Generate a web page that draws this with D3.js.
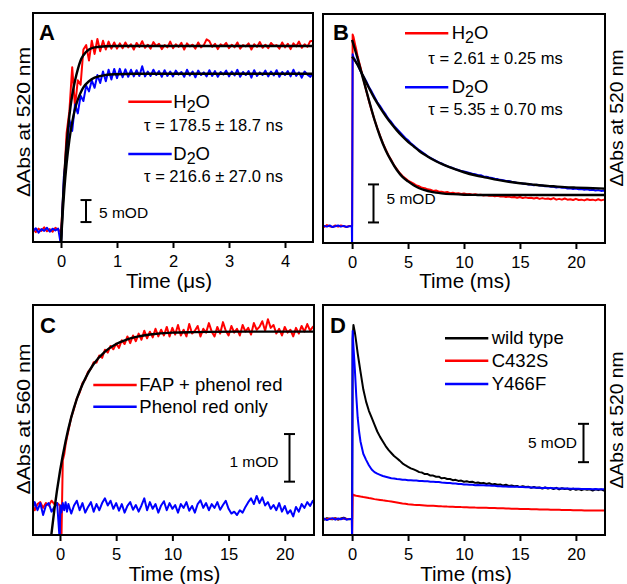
<!DOCTYPE html>
<html><head><meta charset="utf-8">
<script src="https://cdn.jsdelivr.net/npm/d3@7"></script>
<style>
html,body{margin:0;padding:0;background:#fff;}
svg{display:block;font-family:"Liberation Sans",Arial,Helvetica,sans-serif;}
</style></head><body>
<svg id="fig" width="627" height="584"></svg>
<script>
// ---------- DATA ----------
// Panel A time grid (µs)
const tA = [-0.5,-0.45,-0.4,-0.35,-0.3,-0.25,-0.2,-0.15,-0.1,-0.05,
0,0.05,0.1,0.15,0.2,0.25,0.3,0.35,0.4,0.45,
0.5,0.55,0.6,0.65,0.7,0.75,0.8,0.85,0.9,0.95,
1,1.05,1.1,1.15,1.2,1.25,1.3,1.35,1.4,1.45,
1.5,1.55,1.6,1.65,1.7,1.75,1.8,1.85,1.9,1.95,
2,2.05,2.1,2.15,2.2,2.25,2.3,2.35,2.4,2.45,
2.5,2.55,2.6,2.65,2.7,2.75,2.8,2.85,2.9,2.95,
3,3.05,3.1,3.15,3.2,3.25,3.3,3.35,3.4,3.45,
3.5,3.55,3.6,3.65,3.7,3.75,3.8,3.85,3.9,3.95,
4,4.05,4.1,4.15,4.2,4.25,4.3,4.35,4.4,4.45,4.5];
const aH2O = [0.4,-0.5,0.3,-0.2,0.6,-0.3,0.2,-0.4,0.5,0.1,
-0.5,10,22,27,37,28,34,33,41,42,
38.5,43,40,43.4,40.6,43,41,42.8,41.2,42.6,
41.2,
42.4,41.3,42.6,41.5,42.2,41.0,42.5,41.6,42.9,41.4,
42.1,41.2,42.7,41.8,42.3,41.1,42.0,41.5,42.8,41.3,
42.2,41.6,42.5,41.0,42.4,41.7,42.1,41.2,42.6,41.5,
42.0,43.3,42.9,41.6,42.3,41.1,42.2,41.8,42.5,41.3,
42.1,41.5,42.6,41.2,42.0,41.7,42.4,41.0,42.2,41.6,
42.7,41.4,42.1,41.3,42.5,41.8,42.0,41.2,42.6,41.5,
42.3,41.1,42.4,41.7,42.8,41.4,42.2,41.6,42.9,43.0];
const aD2O = [-0.3,0.4,-0.6,0.2,-0.2,0.5,-0.4,0.3,-0.1,0.3,
-3.5,12,17,25,22.5,28.5,26.5,30.5,29.3,32.8,
31.5,34,32.3,35.2,33.4,36,33.8,36.4,34.2,36.6,
34.5,
36.6,34.7,36.5,34.8,36.4,34.9,36.3,35.0,37.2,34.9,
36.0,35.0,36.4,35.2,36.1,34.8,36.3,35.0,36.0,34.9,
36.2,35.3,35.9,34.8,36.4,35.1,36.0,34.7,36.2,35.2,
35.8,34.9,36.3,35.0,36.1,34.8,35.9,35.3,36.2,34.9,
36.0,35.1,36.4,34.8,35.9,35.2,36.1,34.6,36.3,35.0,
35.8,35.2,36.2,34.9,36.0,35.1,36.3,34.8,35.9,35.2,
36.1,34.9,36.4,35.0,35.8,34.6,36.0,35.3,34.8,35.6];
const fitA_H2O_t = [0,0.03,0.06,0.1,0.15,0.2,0.25,0.3,0.35,0.4,0.5,0.6,0.8,1.0,4.5];
const fitA_H2O   = [-3,5.6,12.4,19.4,26.0,30.6,33.9,36.5,38.5,39.7,41.0,41.5,41.75,41.8,41.8];
const fitA_D2O_t = [0,0.03,0.06,0.1,0.15,0.2,0.25,0.3,0.35,0.4,0.5,0.6,0.8,1.0,1.3,4.5];
const fitA_D2O   = [-3,3.8,9.3,15.1,20.5,24.5,27.5,29.6,31.2,32.4,33.8,34.6,35.2,35.4,35.5,35.5];

// Shared time grid for panels B, C, D (ms)
const tMs = [-2.75,-2.5,-2.25,-2,-1.75,-1.5,-1.25,-1,-0.75,-0.5,-0.25,
-0.02,0,0.05,0.12,0.25,0.375,0.5,0.625,0.75,
1,1.25,1.5,1.75,2,2.25,2.5,2.75,3,3.25,
3.5,3.75,4,4.25,4.5,4.75,5,5.25,5.5,5.75,
6,6.25,6.5,6.75,7,7.25,7.5,7.75,8,8.25,
8.5,8.75,9,9.25,9.5,9.75,10,10.25,10.5,10.75,
11,11.25,11.5,11.75,12,12.25,12.5,12.75,13,13.25,
13.5,13.75,14,14.25,14.5,14.75,15,15.25,15.5,15.75,
16,16.25,16.5,16.75,17,17.25,17.5,17.75,18,18.25,
18.5,18.75,19,19.25,19.5,19.75,20,20.25,20.5,20.75,
21,21.25,21.5,21.75,22,22.25,22.5,22.75];

// Panel B (mOD)
const bH2O = [0.1,-0.1,0.15,0,-0.1,0.1,-0.05,0.1,0,-0.1,0.05,
0,0,25.2,24.9,24.0,23.2,22.3,21.6,20.9,
19.4,17.9,16.5,15.2,14.0,12.9,11.9,10.9,10.1,9.3,
8.7,8.0,7.5,7.0,6.6,6.3,6.0,5.8,5.6,5.35,
5.25,5.05,5.0,4.85,4.8,4.65,4.7,4.55,4.55,4.45,
4.5,4.35,4.4,4.3,4.35,4.25,4.3,4.2,4.25,4.15,
4.2,4.1,4.15,4.05,4.1,4.0,4.05,3.95,4.0,3.9,
3.95,3.85,3.9,3.8,3.85,3.75,3.85,3.7,3.8,3.7,
3.75,3.65,3.75,3.6,3.7,3.6,3.65,3.55,3.7,3.5,
3.6,3.5,3.65,3.5,3.55,3.45,3.6,3.45,3.5,3.4,
3.55,3.45,3.5,3.4,3.55,3.4,3.5,3.45];
const bD2O = [-0.1,0.05,-0.05,0.1,-0.1,0,0.1,-0.05,0.05,-0.1,0,
0,-3,22.6,22.2,21.9,21.5,21.2,20.8,20.4,
19.7,19.1,18.3,17.7,17.0,16.3,15.8,15.2,14.7,14.1,
13.7,13.2,12.8,12.4,12.0,11.6,11.3,10.9,10.6,10.3,
10.0,9.75,9.5,9.2,9.0,8.8,8.6,8.4,8.25,8.05,
7.9,7.75,7.65,7.5,7.4,7.25,7.2,7.1,7.0,6.9,
6.85,6.7,6.7,6.55,6.5,6.4,6.35,6.25,6.2,6.1,
6.05,5.95,5.95,5.85,5.8,5.7,5.7,5.6,5.6,5.5,
5.5,5.4,5.45,5.35,5.35,5.25,5.3,5.2,5.2,5.1,
5.15,5.05,5.1,4.95,5.0,4.9,4.95,4.85,4.9,4.8,
4.85,4.75,4.8,4.7,4.75,4.65,4.7,4.6];
const fitB_H2O_t = [0,0.5,1,1.5,2,2.5,3,3.5,4,4.5,5,5.5,6,6.5,7,7.5,8,9,10,11,12,22.6];
const fitB_H2O   = [24.5,22.0,19.3,16.6,14.0,11.8,10.0,8.6,7.4,6.5,5.9,5.4,5.0,4.75,4.55,4.42,4.33,4.22,4.15,4.12,4.1,4.1];
const fitB_D2O_t = [0,0.5,1,1.5,2,2.5,3,3.5,4,4.5,5,5.5,6,6.5,7,7.5,8,9,10,11,12,13,14,15,16,17,18,19,20,21,22.6];
const fitB_D2O   = [22.3,21.2,19.7,18.2,16.8,15.6,14.5,13.5,12.6,11.8,11.1,10.5,9.9,9.4,8.95,8.55,8.2,7.6,7.1,6.7,6.4,6.1,5.85,5.65,5.5,5.35,5.25,5.15,5.08,5.02,4.95];

// Panel C (mOD)
const cFAP = [0.05,0.1,-0.05,0.08,0.12,0.0,0.1,0.05,0.15,0.08,0.1,
0.05,0.0,-0.8,-0.8,1.0,1.12,1.33,1.48,1.62,
1.9,2.08,2.3,2.42,2.62,2.7,2.86,2.92,3.06,3.05,
3.2,3.15,3.32,3.26,3.4,3.33,3.45,3.36,3.52,3.44,
3.6,3.46,3.62,3.5,3.66,3.53,3.72,3.56,3.7,3.58,
3.76,3.6,3.74,3.62,3.8,3.6,3.78,3.64,3.84,3.62,
3.74,3.6,3.86,3.66,3.72,3.82,3.6,3.76,3.68,3.88,
3.7,3.6,3.8,3.66,3.9,3.72,3.62,3.82,3.68,3.76,
3.62,3.84,3.7,3.78,3.64,3.88,3.74,3.8,3.92,3.72,
3.96,3.78,3.84,3.66,3.76,3.62,3.8,3.68,3.74,3.6,
3.78,3.66,3.82,3.7,3.86,3.72,3.8,3.84];
const cPhenol = [0.05,-0.1,0.12,-0.05,0.1,-0.15,0.05,0.1,-0.08,0.02,0.1,
-0.7,-0.3,0.05,-0.1,0.1,-0.05,0.12,-0.08,0.08,
-0.12,0.05,0.15,-0.05,0.1,-0.1,0.02,0.12,-0.08,0.08,
-0.05,0.1,0.2,0.05,0.15,-0.02,0.1,-0.06,0.08,-0.1,
0.04,0.12,-0.04,0.06,-0.08,0.05,0.2,-0.05,0.12,-0.02,
0.08,-0.1,0.05,0.14,-0.05,0.1,-0.02,0.06,-0.1,0.08,
0.0,0.12,-0.06,0.04,-0.1,0.08,0.16,0.0,0.1,-0.05,
0.08,0.0,0.12,-0.04,0.06,0.15,-0.02,-0.12,-0.08,-0.15,
-0.05,-0.1,0.02,0.12,0.2,0.08,0.25,0.1,0.22,0.05,
0.12,-0.02,0.06,-0.05,0.1,-0.08,0.04,-0.12,-0.05,-0.18,
0.02,-0.08,0.08,0.0,0.12,0.04,0.15,0.08];
const fitC_t = [-0.9,-0.77,-0.5,0,0.5,1,1.5,2,2.5,3,4,5,6,7,8,10,12,16,22.6];
const fitC   = [-0.85,-0.57,-0.04,0.77,1.40,1.90,2.29,2.59,2.83,3.02,3.28,3.44,3.54,3.60,3.64,3.68,3.69,3.70,3.70];

// Panel D (mOD)
const dWT = [0.05,-0.1,0.1,0,-0.05,0.1,-0.1,0.05,0.15,0,-0.05,
0,0,23.5,25.3,24.3,23.0,21.6,20.4,19.2,
16.9,15.3,14.1,13.2,12.3,11.4,10.7,10.1,9.5,9.0,
8.6,8.2,7.9,7.6,7.25,7.0,6.8,6.6,6.45,6.3,
6.1,6.05,5.85,5.85,5.65,5.65,5.5,5.5,5.3,5.35,
5.2,5.2,5.05,5.1,4.95,5.0,4.85,4.9,4.8,4.85,
4.7,4.75,4.65,4.7,4.55,4.65,4.5,4.55,4.45,4.5,
4.35,4.45,4.3,4.35,4.25,4.3,4.15,4.25,4.15,4.2,
4.05,4.15,4.05,4.1,3.95,4.1,3.95,4.05,3.9,4.05,
3.85,4.0,3.9,3.95,3.8,3.95,3.8,3.9,3.75,3.9,
3.8,3.85,3.7,3.85,3.75,3.85,3.7,3.8];
const dC432S = [0.05,0,-0.05,0.05,0,0.05,-0.05,0,0.05,0,0,
0,-3,3.1,3.15,3.05,3.02,3.0,2.96,2.92,
2.85,2.8,2.72,2.65,2.58,2.52,2.47,2.42,2.38,2.32,
2.26,2.2,2.14,2.08,2.02,1.97,1.9,1.88,1.84,1.82,
1.8,1.78,1.75,1.72,1.72,1.7,1.68,1.66,1.64,1.63,
1.61,1.6,1.58,1.56,1.56,1.54,1.53,1.52,1.5,1.5,
1.48,1.47,1.46,1.45,1.44,1.43,1.42,1.41,1.4,1.38,
1.38,1.36,1.35,1.34,1.33,1.32,1.3,1.3,1.29,1.28,
1.27,1.26,1.25,1.24,1.23,1.23,1.22,1.2,1.2,1.19,
1.18,1.17,1.16,1.16,1.15,1.14,1.13,1.13,1.12,1.11,
1.11,1.1,1.1,1.09,1.09,1.08,1.08,1.07];
const dY466F = [-0.1,0.05,-0.15,0,0.1,-0.1,0.05,-0.05,0.1,-0.1,0,
0,-3,24.5,22.5,19.4,16.0,13.2,11.4,10.1,
8.5,7.7,7.0,6.45,6.1,5.9,5.75,5.6,5.5,5.4,
5.3,5.27,5.2,5.17,5.1,5.1,5.05,5.04,5.0,5.0,
4.95,4.95,4.9,4.9,4.85,4.85,4.8,4.8,4.75,4.73,
4.68,4.67,4.62,4.62,4.56,4.55,4.5,4.5,4.45,4.45,
4.4,4.41,4.38,4.39,4.35,4.35,4.31,4.31,4.27,4.27,
4.23,4.23,4.2,4.21,4.18,4.19,4.15,4.15,4.12,4.12,
4.09,4.1,4.06,4.07,4.04,4.05,4.02,4.02,3.99,4.0,
3.97,3.98,3.95,3.96,3.93,3.94,3.92,3.93,3.9,3.91,
3.89,3.9,3.88,3.89,3.87,3.88,3.86,3.86];

// Tick values
const ticksA = [0,1,2,3,4];
const ticksMs = [0,5,10,15,20];

// ---------- DRAWING ----------
const svg = d3.select("#fig");
const FONT = '"Liberation Sans",Arial,Helvetica,sans-serif';

function makePanel(p) {
  const x = d3.scaleLinear().domain(p.xd).range([p.left, p.right]);
  const y = d3.scaleLinear().domain(p.yd).range([p.bottom, p.top]);
  const g = svg.append("g");
  const clipId = "clip" + p.name;
  svg.append("clipPath").attr("id", clipId).append("rect")
    .attr("x", p.left).attr("y", p.top)
    .attr("width", p.right - p.left).attr("height", p.bottom - p.top);
  const plot = g.append("g").attr("clip-path", `url(#${clipId})`);
  p.lines.forEach(s => {
    const data = s.t.map((t, i) => [t, s.v[i]]);
    plot.append("path").datum(data)
      .attr("fill", "none").attr("stroke", s.color).attr("stroke-width", s.w)
      .attr("stroke-linejoin", "round")
      .attr("d", d3.line().x(d => x(d[0])).y(d => y(d[1]))
        .curve(s.smooth ? d3.curveMonotoneX : d3.curveLinear));
  });
  const ax = d3.axisBottom(x).tickValues(p.ticks).tickSize(6).tickSizeOuter(0)
    .tickPadding(7).tickFormat(d3.format("d"));
  const axg = g.append("g").attr("transform", `translate(0,${p.bottom})`).call(ax);
  axg.select(".domain").remove();
  axg.selectAll(".tick line").attr("stroke", "#000").attr("stroke-width", 2);
  axg.selectAll(".tick text").attr("fill", "#000").style("font-size", "16.5px").style("font-family", FONT);
  g.append("rect").attr("x", p.left).attr("y", p.top)
    .attr("width", p.right - p.left).attr("height", p.bottom - p.top)
    .attr("fill", "none").attr("stroke", "#000").attr("stroke-width", 2);
  // scale bar
  if (p.bar) {
    const b = p.bar, y0 = y(b.v0), y1 = y(b.v0 + b.size);
    const bg = g.append("g").attr("stroke", "#000").attr("stroke-width", 2);
    bg.append("line").attr("x1", b.x).attr("x2", b.x).attr("y1", y0).attr("y2", y1);
    bg.append("line").attr("x1", b.x - 5.5).attr("x2", b.x + 5.5).attr("y1", y0).attr("y2", y0);
    bg.append("line").attr("x1", b.x - 5.5).attr("x2", b.x + 5.5).attr("y1", y1).attr("y2", y1);
    text(b.tx, b.ty, b.label, 15.5, {anchor: b.anchor || "start"});
  }
  return {x, y};
}

function text(x, y, s, size, o = {}) {
  const t = svg.append("text").attr("x", x).attr("y", y)
    .attr("text-anchor", o.anchor || "start")
    .style("font-size", size + "px").style("font-family", FONT)
    .style("font-weight", o.bold ? "bold" : "normal").attr("fill", "#000").text(s);
  if (o.len) t.attr("textLength", o.len).attr("lengthAdjust", "spacingAndGlyphs");
  return t;
}
function ylabel(x, y, s, len) {
  svg.append("text").attr("transform", `translate(${x},${y}) rotate(-90)`)
    .attr("text-anchor", "middle").style("font-size", "19px").style("font-family", FONT)
    .attr("fill", "#000").attr("textLength", len).attr("lengthAdjust", "spacingAndGlyphs")
    .text(s);
}
function chem(x, y, a, sub, b) {
  const t = svg.append("text").attr("x", x).attr("y", y)
    .style("font-size", "18.5px").style("font-family", FONT).attr("fill", "#000");
  t.append("tspan").text(a);
  t.append("tspan").attr("dy", 4).style("font-size", "16px").text(sub);
  t.append("tspan").attr("dy", -4).text(b);
}
function legLine(x1, x2, y, color) {
  svg.append("line").attr("x1", x1).attr("x2", x2).attr("y1", y).attr("y2", y)
    .attr("stroke", color).attr("stroke-width", 2.5);
}

const RED = "#ff0000", BLUE = "#0000ff", BLACK = "#000000";

// Panel A
makePanel({name: "A", left: 33, right: 313, top: 13, bottom: 242,
  xd: [-0.5, 4.5], yd: [-2.73, 49.3], ticks: ticksA,
  lines: [
    {t: tA, v: aH2O, color: RED, w: 2},
    {t: tA, v: aD2O, color: BLUE, w: 2},
    {t: fitA_H2O_t, v: fitA_H2O, color: BLACK, w: 2.4, smooth: true},
    {t: fitA_D2O_t, v: fitA_D2O, color: BLACK, w: 2.4, smooth: true}
  ],
  bar: {x: 86, v0: 1.8, size: 5, label: "5 mOD", tx: 99, ty: 218}
});
// Panel B
makePanel({name: "B", left: 323, right: 605, top: 14, bottom: 243,
  xd: [-2.6, 22.6], yd: [-2.2, 27.9], ticks: ticksMs,
  lines: [
    {t: tMs, v: bH2O, color: RED, w: 2},
    {t: tMs, v: bD2O, color: BLUE, w: 2},
    {t: fitB_H2O_t, v: fitB_H2O, color: BLACK, w: 2.4, smooth: true},
    {t: fitB_D2O_t, v: fitB_D2O, color: BLACK, w: 2.4, smooth: true}
  ],
  bar: {x: 373.5, v0: 0.5, size: 5, label: "5 mOD", tx: 386.5, ty: 204}
});
// Panel C
makePanel({name: "C", left: 33, right: 314, top: 305, bottom: 535,
  xd: [-2.4, 22.6], yd: [-0.57, 4.26], ticks: ticksMs,
  lines: [
    {t: tMs, v: cFAP, color: RED, w: 2},
    {t: tMs, v: cPhenol, color: BLUE, w: 2},
    {t: fitC_t, v: fitC, color: BLACK, w: 2.4, smooth: true}
  ],
  bar: {x: 289.5, v0: 0.55, size: 1, label: "1 mOD", tx: 278.5, ty: 467, anchor: "end"}
});
// Panel D
makePanel({name: "D", left: 323, right: 605, top: 305, bottom: 535,
  xd: [-2.6, 22.6], yd: [-2.1, 27.9], ticks: ticksMs,
  lines: [
    {t: tMs, v: dWT, color: BLACK, w: 2},
    {t: tMs, v: dC432S, color: RED, w: 2},
    {t: tMs, v: dY466F, color: BLUE, w: 2}
  ],
  bar: {x: 583.5, v0: 7.4, size: 5, label: "5 mOD", tx: 577, ty: 448, anchor: "end"}
});

// Panel letters
text(39, 40, "A", 22, {bold: true});
text(333, 39.5, "B", 22, {bold: true});
text(40, 333, "C", 22, {bold: true});
text(330, 333, "D", 22, {bold: true});

// Axis titles
text(169, 288, "Time (μs)", 20.5, {anchor: "middle"});
text(465, 288, "Time (ms)", 20.5, {anchor: "middle"});
text(174.5, 581, "Time (ms)", 20.5, {anchor: "middle"});
text(466, 581, "Time (ms)", 20.5, {anchor: "middle"});

// Y labels
ylabel(30, 122, "ΔAbs at 520 nm", 150);
ylabel(30, 419, "ΔAbs at 560 nm", 151);
ylabel(623, 118, "ΔAbs at 520 nm", 137);
ylabel(623, 420, "ΔAbs at 520 nm", 137);

// Legend A
legLine(128.3, 171.7, 101.7, RED);
chem(173.3, 108, "H", "2", "O");
text(283, 131, "τ = 178.5 ± 18.7 ns", 16.5, {anchor: "end"});
legLine(128.3, 171.7, 154, BLUE);
chem(173.3, 160, "D", "2", "O");
text(283, 181.7, "τ = 216.6 ± 27.0 ns", 16.5, {anchor: "end"});

// Legend B
legLine(405, 448.3, 33.3, RED);
chem(451.7, 39, "H", "2", "O");
text(428.3, 64, "τ = 2.61 ± 0.25 ms", 16.5);
legLine(405, 448.3, 87.3, BLUE);
chem(451.7, 93.3, "D", "2", "O");
text(428.3, 115, "τ = 5.35 ± 0.70 ms", 16.5);

// Legend C
legLine(93.3, 136.7, 385, RED);
text(139.3, 391, "FAP + phenol red", 18.5);
legLine(93.3, 136.7, 406.7, BLUE);
text(139.3, 413, "Phenol red only", 18.5);

// Legend D
legLine(445, 488.3, 338.3, BLACK);
text(491.7, 344, "wild type", 18.5);
legLine(445, 488.3, 360.7, RED);
text(491.7, 366.5, "C432S", 18.5);
legLine(445, 488.3, 384, BLUE);
text(491.7, 390, "Y466F", 18.5);
</script>
</body></html>
